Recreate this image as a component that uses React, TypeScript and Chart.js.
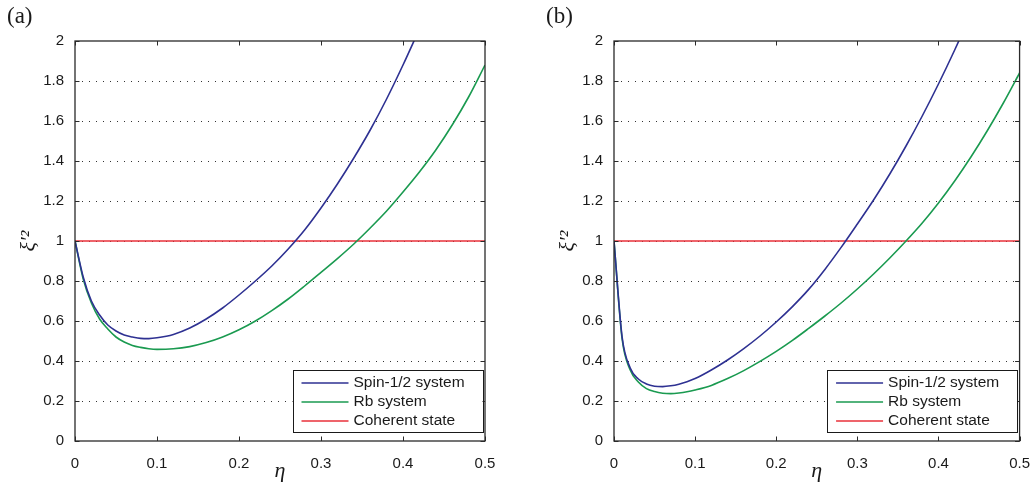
import React, { useEffect, useRef } from "react";
import { Chart, registerables } from "chart.js";

Chart.register(...registerables);

// ---- data ----
const etaGrid = [
  0, 0.01, 0.02, 0.03, 0.04, 0.05, 0.06, 0.07, 0.08, 0.09, 0.1,
  0.12, 0.14, 0.16, 0.18, 0.2, 0.22, 0.24, 0.26, 0.28, 0.3,
  0.32, 0.34, 0.36, 0.38, 0.4, 0.42, 0.44, 0.46, 0.48, 0.5,
];

// panel (a)
const spinA = [
  1, 0.82, 0.7, 0.63, 0.58, 0.55, 0.53, 0.52, 0.513, 0.512, 0.516,
  0.533, 0.565, 0.61, 0.665, 0.73, 0.8, 0.875, 0.96, 1.055, 1.165,
  1.285, 1.415, 1.555, 1.71, 1.88, 2.06, null, null, null, null,
];
const rbA = [
  1, 0.81, 0.69, 0.61, 0.56, 0.52, 0.495, 0.478, 0.468, 0.461, 0.458,
  0.461, 0.472, 0.492, 0.52, 0.556, 0.6, 0.652, 0.71, 0.775, 0.843,
  0.912, 0.985, 1.065, 1.15, 1.245, 1.345, 1.455, 1.58, 1.72, 1.88,
];

// panel (b)
const spinB = [
  1, 0.52, 0.365, 0.31, 0.285, 0.274, 0.272, 0.276, 0.284, 0.296, 0.312,
  0.355, 0.405, 0.462, 0.525, 0.595, 0.672, 0.758, 0.858, 0.968, 1.085,
  1.205, 1.335, 1.475, 1.625, 1.785, 1.955, 2.135, null, null, null,
];
const rbB = [
  1, 0.51, 0.355, 0.295, 0.262, 0.247, 0.239, 0.237, 0.24, 0.246, 0.255,
  0.278, 0.312, 0.352, 0.398, 0.448, 0.503, 0.563, 0.625, 0.69, 0.76,
  0.835, 0.915, 1.0, 1.09, 1.19, 1.3, 1.42, 1.55, 1.69, 1.84,
];

const coherentEta = [0, 0.5];
const coherentVal = [1, 1];

const xTicks = [0, 0.1, 0.2, 0.3, 0.4, 0.5];
const yTicks = [0, 0.2, 0.4, 0.6, 0.8, 1, 1.2, 1.4, 1.6, 1.8, 2];

const seriesLabels = ["Spin-1/2 system", "Rb system", "Coherent state"];
const seriesColors = ["#2e3192", "#1a9a50", "#e8313a"];
const panelLabels = ["(a)", "(b)"];
const xTitle = "η";
const yTitle = "ξ′²";

const SANS = "'Liberation Sans', Arial, Helvetica, sans-serif";
const SERIF = "'Liberation Serif', 'DejaVu Serif', 'Times New Roman', serif";
const TEXT = "#1a1a1a";

const framePlugin = {
  id: "matlabFrame",
  beforeDatasetsDraw(chart: any) {
    const { ctx, chartArea: a, scales } = chart;
    const y = scales.y;
    ctx.save();
    ctx.strokeStyle = "#333";
    ctx.lineWidth = 1;
    ctx.setLineDash([1, 6]);
    yTicks.forEach((v) => {
      if (v <= 0 || v >= 2) return;
      const py = Math.round(y.getPixelForValue(v)) + 0.5;
      ctx.beginPath();
      ctx.moveTo(a.left, py);
      ctx.lineTo(a.right, py);
      ctx.stroke();
    });
    ctx.restore();
  },
  afterDatasetsDraw(chart: any, _args: any, opts: any) {
    const { ctx, chartArea: a, scales } = chart;
    const x = scales.x;
    const y = scales.y;
    ctx.save();
    // frame
    ctx.strokeStyle = "#2a2a2a";
    ctx.lineWidth = 1.3;
    ctx.setLineDash([]);
    ctx.strokeRect(a.left, a.top, a.right - a.left, a.bottom - a.top);
    // inward ticks
    const tl = 4.5;
    ctx.lineWidth = 1;
    ctx.beginPath();
    xTicks.forEach((v) => {
      const px = Math.round(x.getPixelForValue(v)) + 0.5;
      ctx.moveTo(px, a.bottom);
      ctx.lineTo(px, a.bottom - tl);
      ctx.moveTo(px, a.top);
      ctx.lineTo(px, a.top + tl);
    });
    yTicks.forEach((v) => {
      const py = Math.round(y.getPixelForValue(v)) + 0.5;
      ctx.moveTo(a.left, py);
      ctx.lineTo(a.left + tl, py);
      ctx.moveTo(a.right, py);
      ctx.lineTo(a.right - tl, py);
    });
    ctx.stroke();

    // legend box
    const bw = 190;
    const bh = 62;
    const bx = a.right - 2.5 - bw;
    const by = a.bottom - 9 - bh;
    ctx.fillStyle = "#ffffff";
    ctx.fillRect(bx, by, bw, bh);
    ctx.strokeStyle = "#1a1a1a";
    ctx.lineWidth = 1;
    ctx.strokeRect(Math.round(bx) + 0.5, Math.round(by) + 0.5, bw, bh);
    ctx.font = `15.5px ${SANS}`;
    ctx.textBaseline = "middle";
    ctx.textAlign = "left";
    chart.data.datasets.forEach((ds: any, i: number) => {
      const ry = by + 13 + i * 19;
      ctx.strokeStyle = ds.borderColor;
      ctx.lineWidth = 1.6;
      ctx.beginPath();
      ctx.moveTo(bx + 9, ry);
      ctx.lineTo(bx + 56, ry);
      ctx.stroke();
      ctx.fillStyle = TEXT;
      ctx.fillText(ds.label, bx + 61, ry);
    });

    // panel label
    ctx.font = `23px ${SERIF}`;
    ctx.textBaseline = "alphabetic";
    ctx.fillStyle = TEXT;
    ctx.fillText(opts.label, 7, 23);
    ctx.restore();
  },
};

function Panel(props: {
  label: string;
  spin: (number | null)[];
  rb: (number | null)[];
  left: number;
  width: number;
  padRight: number;
}) {
  const ref = useRef<HTMLCanvasElement>(null);
  useEffect(() => {
    const canvas = ref.current;
    if (!canvas) return;
    const mk = (xs: number[], ys: (number | null)[]) =>
      xs.map((xv, i) => ({ x: xv, y: ys[i] }));
    const common = {
      borderWidth: 1.6,
      pointRadius: 0,
      cubicInterpolationMode: "monotone",
      fill: false,
      clip: 0,
    };
    const chart = new Chart(canvas, {
      type: "line",
      data: {
        datasets: [
          { ...common, label: seriesLabels[0], data: mk(etaGrid, props.spin), borderColor: seriesColors[0] },
          { ...common, label: seriesLabels[1], data: mk(etaGrid, props.rb), borderColor: seriesColors[1] },
          { ...common, label: seriesLabels[2], data: mk(coherentEta, coherentVal), borderColor: seriesColors[2] },
        ] as any,
      },
      options: {
        responsive: false,
        animation: false,
        layout: { padding: { left: 0, top: 41, right: props.padRight, bottom: 0 } },
        plugins: {
          legend: { display: false },
          tooltip: { enabled: false },
          matlabFrame: { label: props.label },
        } as any,
        scales: {
          x: {
            type: "linear",
            min: 0,
            max: 0.5,
            afterBuildTicks: (s: any) => {
              s.ticks = xTicks.map((v) => ({ value: v }));
            },
            afterFit: (s: any) => {
              s.height = 50;
            },
            grid: { display: false },
            border: { display: false },
            ticks: {
              padding: 6,
              maxRotation: 0,
              autoSkip: false,
              color: TEXT,
              font: { family: SANS, size: 15 },
              callback: (v: any) => String(v),
            },
            title: {
              display: true,
              text: xTitle,
              color: TEXT,
              font: { family: SERIF, size: 22, style: "italic" },
              padding: { top: 0, bottom: 7 },
            },
          },
          y: {
            type: "linear",
            min: 0,
            max: 2,
            afterBuildTicks: (s: any) => {
              s.ticks = yTicks.map((v) => ({ value: v }));
            },
            afterFit: (s: any) => {
              s.width = 75;
            },
            grid: { display: false },
            border: { display: false },
            ticks: {
              padding: 3,
              autoSkip: false,
              color: TEXT,
              font: { family: SANS, size: 15 },
              callback: (v: any) => String(v),
            },
            title: {
              display: true,
              text: yTitle,
              color: TEXT,
              font: { family: SERIF, size: 22, style: "italic" },
              padding: { top: 16, bottom: 0 },
            },
          },
        },
      } as any,
      plugins: [framePlugin as any],
    });
    return () => chart.destroy();
  }, []);
  return (
    <canvas
      ref={ref}
      width={props.width}
      height={491}
      style={{ position: "absolute", left: props.left, top: 0, width: props.width, height: 491 }}
    />
  );
}

export default function App() {
  return (
    <div style={{ position: "absolute", left: 0, top: 0, width: 1036, height: 491, background: "#fff" }}>
      <Panel label={panelLabels[0]} spin={spinA} rb={rbA} left={0} width={539} padRight={54} />
      <Panel label={panelLabels[1]} spin={spinB} rb={rbB} left={539} width={497} padRight={12} />
    </div>
  );
}
